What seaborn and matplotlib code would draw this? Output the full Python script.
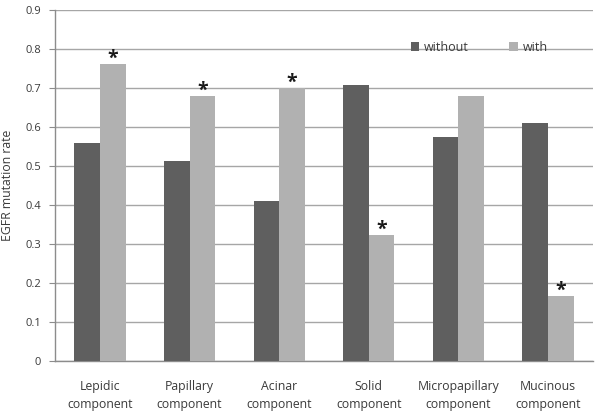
import matplotlib
matplotlib.use("Agg")
import matplotlib.pyplot as plt
import seaborn as sns
import pandas as pd

categories = ["Lepidic\ncomponent", "Papillary\ncomponent", "Acinar\ncomponent",
              "Solid\ncomponent", "Micropapillary\ncomponent", "Mucinous\ncomponent"]
without_vals = [0.559, 0.513, 0.410, 0.708, 0.574, 0.609]
with_vals = [0.762, 0.680, 0.699, 0.323, 0.680, 0.167]
significant = [True, True, True, True, False, True]

df = pd.DataFrame({
    "category": categories * 2,
    "rate": without_vals + with_vals,
    "group": ["without"] * len(categories) + ["with"] * len(categories),
})

sns.set_style("white")
plt.rcParams["font.family"] = ["Open Sans", "DejaVu Sans"]
text_color = "#3a3a3a"

fig = plt.figure(figsize=(6, 4.15), dpi=100)
ax = fig.add_axes([0.092, 0.13, 0.896, 0.846])

sns.barplot(data=df, x="category", y="rate", hue="group",
            palette={"without": "#5f5f5f", "with": "#b1b1b1"},
            width=0.57, saturation=1, linewidth=0, ax=ax, zorder=3)

# significance stars above the "with" bars
for i, (v, s) in enumerate(zip(with_vals, significant)):
    if s:
        ax.text(i + 0.1425, v - 0.012, "*", ha="center", va="bottom",
                fontsize=14, fontweight="bold", color="#1a1a1a", zorder=4)

ax.set_ylim(0, 0.9)
ax.set_xlim(-0.5, len(categories) - 0.5)
ax.set_yticks([i / 10 for i in range(10)])
ax.set_yticklabels(["0"] + [f"{i / 10:.1f}" for i in range(1, 10)])
ax.yaxis.grid(True, color="#a6a6a6", linewidth=1.0, zorder=0)
ax.set_axisbelow(True)

ax.set_xticks(range(len(categories)))
ax.set_xticklabels(categories, fontsize=8.8, color=text_color, linespacing=1.45)
ax.tick_params(axis="x", length=0, pad=14)
ax.set_xticks([i - 0.5 for i in range(len(categories) + 1)], minor=True)
ax.tick_params(axis="x", which="minor", length=5, color="#8c8c8c", direction="out")
ax.tick_params(axis="y", labelsize=8, labelcolor=text_color, length=4,
               color="#8c8c8c", direction="out", left=True, pad=6)

for side in ["top", "right"]:
    ax.spines[side].set_visible(False)
for side in ["left", "bottom"]:
    ax.spines[side].set_color("#8c8c8c")
    ax.spines[side].set_linewidth(1.0)

ax.set_xlabel("")
ax.set_ylabel("EGFR mutation rate", fontsize=8.8, color=text_color, labelpad=8)

ax.legend(loc="upper left", bbox_to_anchor=(0.64, 0.945), ncol=2, frameon=False,
          fontsize=9, handlelength=0.7, handleheight=0.7, handletextpad=0.4,
          columnspacing=3.2, labelcolor=text_color)

plt.savefig("out.png", dpi=100)
